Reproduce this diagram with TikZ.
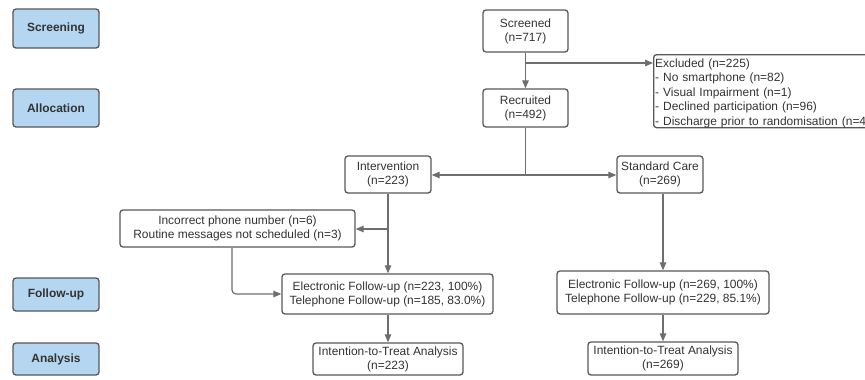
\documentclass[tikz,border=0pt]{standalone}
\usepackage{fontspec}
\setmainfont{Liberation Sans}
\usetikzlibrary{arrows.meta}
\definecolor{stagefill}{RGB}{180,214,240}
\definecolor{boxline}{RGB}{88,88,88}
\definecolor{txt}{RGB}{51,51,51}
\definecolor{connc}{RGB}{110,110,110}
\begin{document}
\begin{tikzpicture}[x=1bp,y=-1bp,
  stagebox/.style={draw=boxline, fill=stagefill, line width=1.3bp, rounded corners=3bp,
    minimum width=86bp, inner sep=0pt, text=txt, font=\fontsize{12}{14}\selectfont\bfseries},
  flowbox/.style={draw=boxline, line width=1.3bp, rounded corners=3bp, align=center,
    inner sep=0pt, text=txt, font=\fontsize{12}{14}\selectfont},
  connline/.style={draw=connc, line width=1.2bp},
  conn/.style={connline, -{Triangle[length=8bp,width=6.5bp]}}
]
\useasboundingbox (0,0) rectangle (865,379);
\clip (0,0) rectangle (865,379);

% stage labels
\node[stagebox, minimum height=39bp] (sScr) at (56,28.5) {Screening};
\node[stagebox, minimum height=38bp] (sAll) at (56,108) {Allocation};
\node[stagebox, minimum height=33bp] (sFol) at (56,294.5) {Follow-up};
\node[stagebox, minimum height=32bp] (sAna) at (56,359) {Analysis};

% flow boxes
\node[flowbox, minimum width=85bp, minimum height=42bp] (screened) at (525.5,31) {Screened\\(n=717)};
\node[flowbox, minimum width=85bp, minimum height=38bp] (recruited) at (525.5,108) {Recruited\\(n=492)};
\node[flowbox, anchor=north west, minimum width=235bp, minimum height=73bp] (excluded) at (653,54) {};
\node[anchor=west, align=left, text width=231bp, inner sep=0pt, text=txt,
      font=\fontsize{12}{14.5}\selectfont] (extext) at ([xshift=2bp,yshift=-2bp]excluded.west)
  {Excluded (n=225)\\- No smartphone (n=82)\\- Visual Impairment (n=1)\\- Declined participation (n=96)\\- Discharge prior to randomisation (n=46)};
\node[flowbox, minimum width=86bp, minimum height=37bp] (interv) at (388,174.5) {Intervention\\(n=223)};
\node[flowbox, minimum width=86bp, minimum height=37bp] (std) at (660,174.5) {Standard Care\\(n=269)};
\node[flowbox, minimum width=235bp, minimum height=37bp] (incorrect) at (237.5,228.5) {Incorrect phone number (n=6)\\Routine messages not scheduled (n=3)};
\node[flowbox, minimum width=211bp, minimum height=40bp] (elecL) at (387.5,294) {Electronic Follow-up (n=223, 100\%)\\Telephone Follow-up (n=185, 83.0\%)};
\node[flowbox, minimum width=212bp, minimum height=43bp] (elecR) at (663,292.5) {Electronic Follow-up (n=269, 100\%)\\Telephone Follow-up (n=229, 85.1\%)};
\node[flowbox, minimum width=150bp, minimum height=32bp] (ittL) at (388,359) {Intention-to-Treat Analysis\\(n=223)};
\node[flowbox, minimum width=150bp, minimum height=33bp] (ittR) at (663,358.5) {Intention-to-Treat Analysis\\(n=269)};

% connectors
\draw[conn] (screened) -- (recruited);
\coordinate (exbr) at (525.5,63);
\draw[conn] (exbr) -- (exbr -| excluded.west);

\coordinate (split) at (525.5,175);
\draw[connline] (recruited.south) -- (split);
\draw[conn] (split) -- (split -| interv.east);
\draw[conn] (split) -- (split -| std.west);

\draw[conn] (interv.south) -- (interv.south |- elecL.north);
\coordinate (incbr) at (388,229);
\draw[conn] (incbr) -- (incbr -| incorrect.east);
\draw[conn, rounded corners=4bp] ([xshift=-5.5bp]incorrect.south) |- (elecL.west);

\draw[conn] (elecR.north |- std.south) -- (elecR.north);

\draw[conn] (ittL.north |- elecL.south) -- (ittL.north);
\draw[conn] (elecR.south) -- (ittR.north);
\end{tikzpicture}
\end{document}
